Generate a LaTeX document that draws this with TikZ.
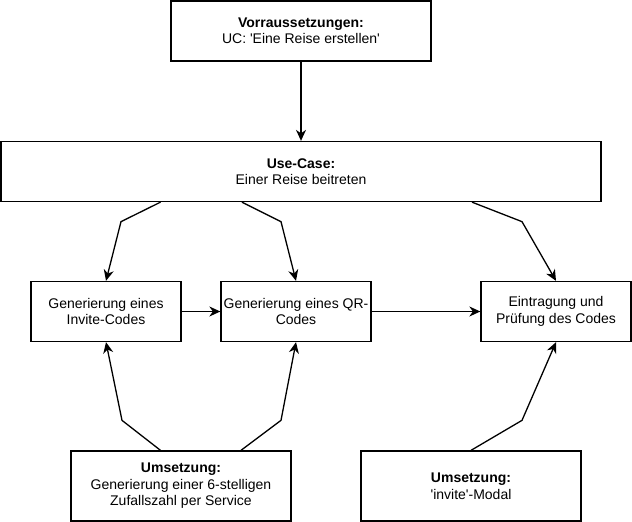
\documentclass[tikz,border=0pt]{standalone}
\usepackage{fontspec}
\setmainfont{Liberation Sans}
\usetikzlibrary{arrows.meta}

\begin{document}
\begin{tikzpicture}[x=1pt, y=-1pt,
  box/.style={draw=black, line width=1.3pt, fill=white, align=center, inner sep=0pt, font=\fontsize{14}{16.5}\selectfont, minimum height=60pt},
  flow/.style={draw=black, line width=1.3pt, -{Stealth[length=11pt, width=10pt, inset=3.5pt]}}]
\useasboundingbox (0,0) rectangle (632,522);
\node[box, minimum width=260pt] (pre) at (301,31) {\textbf{Vorraussetzungen:}\\UC: \textquotesingle Eine Reise erstellen\textquotesingle};
\node[box, minimum width=600pt] (uc) at (301,171.5) {\textbf{Use-Case:}\\Einer Reise beitreten};
\node[box, minimum width=150pt] (c1) at (106,311.5) {Generierung eines\\Invite-Codes};
\node[box, minimum width=150pt] (c2) at (296,311.5) {Generierung eines QR-\\Codes};
\node[box, minimum width=150pt] (c3) at (556,311.5) {Eintragung und\\Prüfung des Codes};
\node[box, minimum width=220pt, minimum height=70pt] (u1) at (181,486) {\textbf{Umsetzung:}\\Generierung einer 6-stelligen\\Zufallszahl per Service};
\node[box, minimum width=220pt, minimum height=70pt] (u2) at (471,486) {\textbf{Umsetzung:}\\\textquotesingle invite\textquotesingle-Modal};
\draw[flow] (pre) -- (uc);
\draw[flow] ([xshift=-140.5pt]uc.south) -- ++(-39.5,19.5) -- (c1.north);
\draw[flow] ([xshift=-59pt]uc.south) -- ++(39,19.5) -- (c2.north);
\draw[flow] ([xshift=171pt]uc.south) -- ++(50,19.5) -- (c3.north);
\draw[flow] (c1) -- (c2);
\draw[flow] (c2) -- (c3);
\draw[flow] ([xshift=-20.5pt]u1.north) -- ++(-38.5,-30) -- (c1.south);
\draw[flow] ([xshift=60pt]u1.north) -- ++(40,-30) -- (c2.south);
\draw[flow] (u2.north) -- ++(51,-30) -- (c3.south);
\end{tikzpicture}
\end{document}
